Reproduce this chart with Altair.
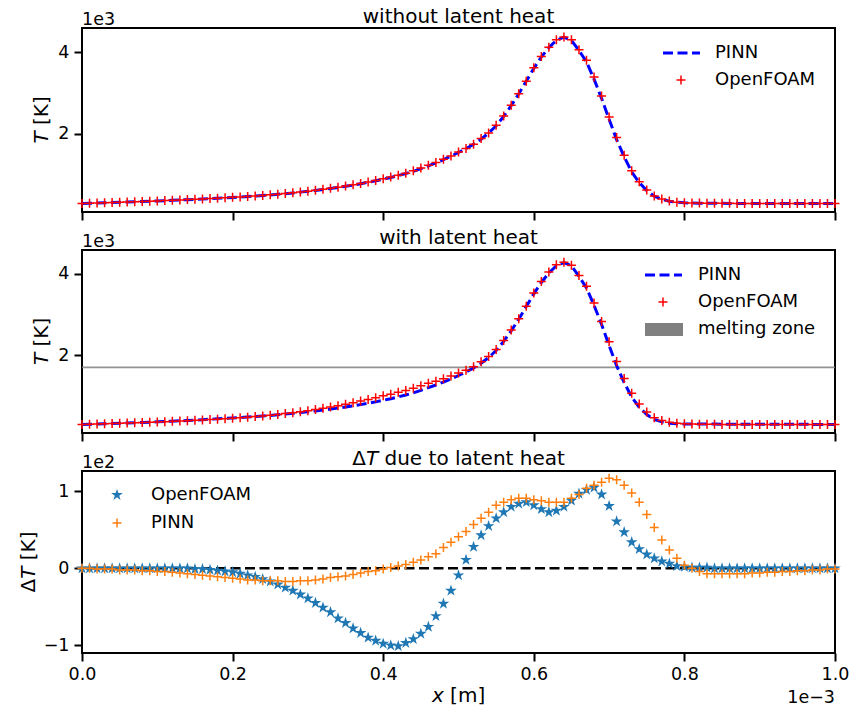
import altair as alt
import pandas as pd

# ---------------- data (x in units of 1e-3 m) ----------------
X_MM = [round(0.01 * i, 2) for i in range(101)]

T_NO_LH_OPENFOAM = [
    300, 305, 311, 316, 322, 328, 334, 340, 347, 354,
    362, 369, 377, 385, 393, 401, 410, 419, 428, 438,
    448, 459, 470, 482, 495, 509, 525, 542, 560, 580,
    600, 622, 646, 671, 698, 727, 758, 790, 825, 862,
    905, 945, 990, 1040, 1100, 1165, 1235, 1300, 1380, 1460,
    1555, 1645, 1745, 1885, 2025, 2210, 2440, 2700, 2985, 3290,
    3615, 3895, 4120, 4300, 4370, 4300, 4060, 3800, 3390, 2930,
    2415, 1910, 1480, 1100, 830, 625, 480, 405, 360, 330,
    318, 312, 308, 305, 303, 302, 301, 300, 300, 300,
    300, 300, 300, 300, 300, 300, 300, 300, 300, 300, 300]

T_NO_LH_PINN = [
    298, 303, 309, 315, 321, 327, 333, 339, 346, 353,
    360, 368, 376, 384, 392, 400, 409, 418, 427, 437,
    447, 457, 468, 480, 493, 507, 522, 539, 557, 576,
    596, 618, 641, 666, 692, 720, 750, 782, 816, 853,
    893, 935, 980, 1030, 1085, 1150, 1220, 1290, 1370, 1455,
    1545, 1640, 1745, 1870, 2020, 2200, 2430, 2690, 2980, 3290,
    3600, 3880, 4110, 4290, 4365, 4290, 4040, 3760, 3340, 2870,
    2360, 1860, 1440, 1070, 810, 615, 475, 400, 355, 328,
    316, 310, 306, 304, 302, 301, 300, 300, 300, 300,
    300, 300, 300, 300, 300, 300, 300, 300, 300, 300, 300]

T_LH_OPENFOAM = [
    300, 305, 311, 316, 322, 328, 334, 340, 347, 354,
    362, 369, 377, 385, 393, 402, 411, 421, 431, 442,
    453, 466, 479, 493, 509, 526, 546, 567, 589, 614,
    639, 667, 697, 728, 763, 798, 836, 874, 915, 956,
    1003, 1045, 1091, 1137, 1192, 1250, 1311, 1362, 1426, 1489,
    1564, 1634, 1717, 1842, 1970, 2145, 2367, 2620, 2901, 3204,
    3533, 3818, 4047, 4225, 4290, 4212, 3963, 3698, 3285, 2834,
    2334, 1849, 1433, 1066, 805, 607, 467, 396, 354, 327,
    316, 311, 307, 304, 303, 302, 301, 300, 300, 300,
    300, 300, 300, 300, 300, 300, 300, 300, 300, 300, 300]

T_LH_PINN = [
    298, 303, 310, 316, 322, 329, 335, 341, 349, 356,
    364, 372, 381, 390, 399, 408, 418, 428, 438, 449,
    460, 471, 483, 495, 509, 523, 538, 556, 574, 592,
    612, 633, 655, 678, 703, 730, 758, 788, 820, 856,
    894, 934, 977, 1025, 1077, 1139, 1205, 1271, 1343, 1421,
    1504, 1592, 1688, 1805, 1947, 2118, 2344, 2601, 2889, 3199,
    3511, 3792, 4024, 4204, 4279, 4199, 3944, 3656, 3232, 2758,
    2243, 1745, 1332, 972, 724, 545, 422, 363, 331, 315,
    312, 310, 310, 311, 309, 308, 307, 307, 307, 306,
    306, 305, 305, 304, 304, 303, 303, 302, 302, 301, 301]

DT_OPENFOAM = [
    0, 0, 0, 0, 0, 0, 0, 0, 0, 0,
    0, 0, 0, 0, 0, -1, -1, -2, -3, -4,
    -5, -7, -9, -11, -14, -17, -21, -25, -29, -34,
    -39, -45, -51, -57, -65, -71, -78, -84, -90, -94,
    -98, -100, -101, -97, -92, -85, -76, -62, -46, -29,
    -9, 11, 28, 43, 55, 65, 73, 80, 84, 86,
    82, 77, 73, 75, 80, 88, 97, 102, 105, 96,
    81, 61, 47, 34, 25, 18, 13, 9, 6, 3,
    2, 1, 1, 1, 0, 0, 0, 0, 0, 0,
    0, 0, 0, 0, 0, 0, 0, 0, 0, 0, 0]

DT_PINN = [
    0, 0, -1, -1, -1, -2, -2, -2, -3, -3,
    -4, -4, -5, -6, -7, -8, -9, -10, -11, -12,
    -13, -14, -15, -15, -16, -16, -16, -17, -17, -16,
    -16, -15, -14, -12, -11, -10, -8, -6, -4, -3,
    -1, 1, 3, 5, 8, 11, 15, 19, 27, 34,
    41, 48, 57, 65, 73, 82, 86, 89, 91, 91,
    89, 88, 86, 86, 86, 91, 96, 104, 108, 112,
    117, 115, 108, 98, 86, 70, 53, 37, 24, 13,
    4, 0, -4, -7, -7, -7, -7, -7, -7, -6,
    -6, -5, -5, -4, -4, -3, -3, -2, -2, -1, -1]

MELT_LO, MELT_HI = 1685, 1725
X_TICKS = [0.0, 0.2, 0.4, 0.6, 0.8, 1.0]
T_TICKS = [2000, 4000]
DT_TICKS = [-100, 0, 100]

# ---------------- styling ----------------
FONT = "DejaVu Sans"
W = 753
H1, H2, H3 = 184, 183, 182
PLUS = "M-1,0H1M0,-1V1"
STAR = ("M0,-1L0.225,-0.309L0.951,-0.309L0.363,0.118L0.588,0.809L0,0.382"
        "L-0.588,0.809L-0.363,0.118L-0.951,-0.309L-0.225,-0.309Z")
STAR_SIZE = 150
DASH = [10, 4.5]
TICK_FS = 17.5
LEG_FS = 18
TITLE_FS = 20

df1 = pd.DataFrame({"x": X_MM, "of": T_NO_LH_OPENFOAM, "pinn": T_NO_LH_PINN})
df2 = pd.DataFrame({"x": X_MM, "of": T_LH_OPENFOAM, "pinn": T_LH_PINN})
df3 = pd.DataFrame({"x": X_MM, "of": DT_OPENFOAM, "pinn": DT_PINN})
ONE = pd.DataFrame({"k": [0]})

XS = alt.Scale(domain=[0, 1], nice=False, zero=False)
TS = alt.Scale(domain=[90, 4590], nice=False, zero=False)
DS = alt.Scale(domain=[-110, 126.5], nice=False, zero=False)


def x_axis(show):
    return alt.Axis(values=X_TICKS, labels=show, format=".1f", title=None,
                    tickSize=8, tickWidth=2, tickColor="black",
                    labelFontSize=TICK_FS, labelFont=FONT, labelColor="black",
                    labelPadding=4, labelFlush=False, domain=False, grid=False)


def y_axis(values, expr):
    return alt.Axis(values=values, labelExpr=expr, title=None,
                    tickSize=8, tickWidth=2, tickColor="black",
                    labelFontSize=TICK_FS, labelFont=FONT, labelColor="black",
                    labelPadding=5, labelFlush=False, domain=False, grid=False)


def label(text, x, y, size=LEG_FS, align="left", baseline="middle",
          italic=False, angle=0):
    kw = dict(text=text, font=FONT, fontSize=size, align=align,
              baseline=baseline, color="black",
              fontStyle="italic" if italic else "normal")
    if angle:
        kw["angle"] = angle
    return alt.Chart(ONE).mark_text(**kw).encode(x=alt.value(x), y=alt.value(y))


def dash_sample(x1, x2, y, color, width=3):
    return alt.Chart(ONE).mark_rule(color=color, strokeWidth=width,
                                    strokeDash=DASH).encode(
        x=alt.value(x1), x2=alt.value(x2), y=alt.value(y))


def point_sample(x, y, shape, color, size, filled=False):
    kw = dict(shape=shape, size=size, filled=filled, color=color, opacity=1)
    if not filled:
        kw["strokeWidth"] = 1.5
    return alt.Chart(ONE).mark_point(**kw).encode(x=alt.value(x), y=alt.value(y))


def temp_panel(df, h, title, title_y, melting=False, legend_x=581, text_x=633):
    tax = y_axis(T_TICKS, "format(datum.value / 1000, 'd')")
    layers = []
    if melting:
        band = pd.DataFrame({"x0": [0.0], "x1": [1.0], "lo": [MELT_LO], "hi": [MELT_HI]})
        layers.append(alt.Chart(band).mark_rect(color="gray", opacity=0.85).encode(
            x=alt.X("x0:Q", scale=XS, axis=x_axis(False)), x2="x1",
            y=alt.Y("lo:Q", scale=TS, axis=tax), y2="hi"))
    base = alt.Chart(df)
    line = base.mark_line(color="blue", strokeWidth=3, strokeDash=DASH).encode(
        x=alt.X("x:Q", scale=XS, axis=x_axis(False)),
        y=alt.Y("pinn:Q", scale=TS, axis=tax))
    pts = base.mark_point(shape=PLUS, size=81, filled=False, color="red",
                          strokeWidth=1.5, opacity=1).encode(
        x=alt.X("x:Q", scale=XS, axis=x_axis(False)),
        y=alt.Y("of:Q", scale=TS, axis=tax))
    layers += [line, pts]
    layers += [
        dash_sample(legend_x, legend_x + 37, 25, "blue"),
        label("PINN", text_x, 25),
        point_sample(legend_x + 18, 52, PLUS, "red", 81),
        label("OpenFOAM", text_x, 52),
    ]
    if melting:
        layers += [
            alt.Chart(ONE).mark_rect(color="gray").encode(
                x=alt.value(legend_x), x2=alt.value(legend_x + 38),
                y=alt.value(73), y2=alt.value(86)),
            label("melting zone", text_x, 79),
        ]
    c = h / 2
    layers += [
        label(title, W / 2, title_y, size=TITLE_FS, align="center", baseline="alphabetic"),
        label("1e3", 0, -3, size=TICK_FS, baseline="alphabetic"),
        label("T", -34, c + 23.6, size=TITLE_FS, baseline="alphabetic", italic=True, angle=270),
        label("[K]", -34, c + 23.6 - 18.6, size=TITLE_FS, baseline="alphabetic", angle=270),
    ]
    return alt.layer(*layers).properties(width=W, height=h)


p1 = temp_panel(df1, H1, "without latent heat", -5)
p2 = temp_panel(df2, H2, "with latent heat", -6, melting=True, legend_x=563, text_x=616)

# ---------------- panel 3 ----------------
dax = y_axis(DT_TICKS, "replace(format(datum.value / 100, 'd'), '-', '\u2212')")
zero = alt.Chart(pd.DataFrame({"z": [0]})).mark_rule(
    color="black", strokeWidth=2.5, strokeDash=DASH).encode(
    y=alt.Y("z:Q", scale=DS, axis=dax))
base3 = alt.Chart(df3)
stars = base3.mark_point(shape=STAR, size=STAR_SIZE, filled=True, color="#1f77b4",
                         opacity=1).encode(
    x=alt.X("x:Q", scale=XS, axis=x_axis(True)),
    y=alt.Y("of:Q", scale=DS, axis=dax))
plus3 = base3.mark_point(shape=PLUS, size=81, filled=False, color="#ff7f0e",
                         strokeWidth=1.5, opacity=1).encode(
    x=alt.X("x:Q", scale=XS, axis=x_axis(True)),
    y=alt.Y("pinn:Q", scale=DS, axis=dax))
c3 = H3 / 2
t0 = W / 2 - 106.3
p3 = alt.layer(
    zero, stars, plus3,
    point_sample(35, 24, STAR, "#1f77b4", STAR_SIZE, filled=True),
    label("OpenFOAM", 69, 24),
    point_sample(35, 52, PLUS, "#ff7f0e", 81),
    label("PINN", 69, 52),
    label("\u0394", t0, -6, size=TITLE_FS, baseline="alphabetic"),
    label("T", t0 + 13.7, -6, size=TITLE_FS, baseline="alphabetic", italic=True),
    label("due to latent heat", t0 + 13.7 + 12.2 + 6.4, -6, size=TITLE_FS, baseline="alphabetic"),
    label("1e2", 0, -3, size=TICK_FS, baseline="alphabetic"),
    label("\u0394", -47, c3 + 30.5, size=TITLE_FS, baseline="alphabetic", angle=270),
    label("T", -47, c3 + 30.5 - 13.7, size=TITLE_FS, baseline="alphabetic", italic=True, angle=270),
    label("[K]", -47, c3 + 30.5 - 13.7 - 18.6, size=TITLE_FS, baseline="alphabetic", angle=270),
    label("x", W / 2 - 26.6, 231, size=TITLE_FS, baseline="alphabetic", italic=True),
    label("[m]", W / 2 - 26.6 + 18.2, 231, size=TITLE_FS, baseline="alphabetic"),
    label("1e\u22123", W, 232, size=TICK_FS, align="right", baseline="alphabetic"),
).properties(width=W, height=H3)

chart = alt.vconcat(p1, p2, p3, spacing=5).properties(
    padding={"left": 17, "top": 6, "right": 5, "bottom": 4},
    background="white",
).configure_view(stroke="black", strokeWidth=2)

chart.save("out.html", embed_options={"renderer": "svg", "actions": False})
